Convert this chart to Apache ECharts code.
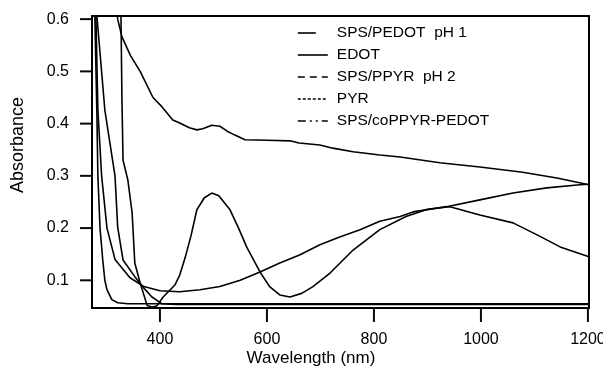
<!DOCTYPE html>
<html>
<head>
<meta charset="utf-8">
<script src="https://cdn.jsdelivr.net/npm/echarts@6/dist/echarts.min.js"></script>
<style>html,body{margin:0;padding:0;background:#fff}#c{width:603px;height:371px}</style>
</head>
<body>
<div id="c"></div>
<script>
// ---- data ----
const xTicks = [400, 600, 800, 1000, 1200];
const yTicks = [0.1, 0.2, 0.3, 0.4, 0.5, 0.6];
const seriesNames = ['SPS/PEDOT  pH 1', 'EDOT', 'SPS/PPYR  pH 2', 'PYR', 'SPS/coPPYR-PEDOT'];

const pedotWl = [280, 284, 291, 301, 316, 344, 370, 400, 437, 475, 512, 550, 587, 624, 662, 699, 736, 774, 811, 849, 873, 936, 998, 1060, 1123, 1185, 1202];
const pedotAbs = [0.62, 0.426, 0.30, 0.20, 0.14, 0.105, 0.088, 0.080, 0.078, 0.082, 0.088, 0.100, 0.116, 0.133, 0.149, 0.168, 0.183, 0.197, 0.213, 0.222, 0.231, 0.241, 0.254, 0.267, 0.277, 0.283, 0.284];

const edotWl = [278, 282, 284, 288, 293, 297, 301, 310, 321, 340, 400, 600, 800, 1000, 1202];
const edotAbs = [0.62, 0.426, 0.30, 0.20, 0.14, 0.10, 0.082, 0.063, 0.057, 0.055, 0.055, 0.055, 0.055, 0.055, 0.055];

const ppyrWl = [327, 329, 331, 340, 348, 353, 363, 376, 385, 394, 406, 428, 437, 447, 458, 469, 483, 497, 510, 531, 547, 562, 587, 605, 624, 643, 665, 686, 718, 761, 811, 860, 900, 942, 998, 1060, 1105, 1148, 1202];
const ppyrAbs = [0.62, 0.445, 0.33, 0.292, 0.229, 0.133, 0.095, 0.052, 0.049, 0.051, 0.068, 0.091, 0.110, 0.143, 0.185, 0.235, 0.258, 0.267, 0.262, 0.235, 0.200, 0.164, 0.116, 0.088, 0.072, 0.068, 0.075, 0.088, 0.114, 0.158, 0.197, 0.222, 0.236, 0.241, 0.225, 0.210, 0.187, 0.164, 0.145];

const pyrWl = [281, 297, 316, 321, 331, 353, 370, 385, 404, 430, 600, 800, 1000, 1202];
const pyrAbs = [0.62, 0.426, 0.30, 0.202, 0.139, 0.107, 0.085, 0.068, 0.055, 0.054, 0.054, 0.054, 0.054, 0.054];

const coWl = [318, 321, 329, 345, 363, 387, 404, 424, 437, 455, 469, 480, 497, 512, 525, 540, 559, 600, 643, 660, 699, 723, 761, 811, 849, 923, 998, 1078, 1142, 1202];
const coAbs = [0.64, 0.60, 0.566, 0.53, 0.50, 0.45, 0.432, 0.407, 0.401, 0.392, 0.388, 0.390, 0.397, 0.395, 0.386, 0.378, 0.369, 0.368, 0.367, 0.363, 0.359, 0.353, 0.346, 0.340, 0.336, 0.325, 0.317, 0.307, 0.296, 0.283];

const legendDash = [[18, 40], 'solid', [7, 5], [3, 2], [8, 4, 2, 4, 2, 4]];
// ---------------------------------------

const FONT = "'Liberation Sans', Arial, sans-serif";
const TICK_COLOR = '#0a0a0a';
const X_MIN = 273, X_MAX = 1202, Y_MIN = 0.047, Y_MAX = 0.606;
const pairs = (xs, ys) => xs.map((x, i) => [x, ys[i]]);
const curves = [
  pairs(pedotWl, pedotAbs),
  pairs(edotWl, edotAbs),
  pairs(ppyrWl, ppyrAbs),
  pairs(pyrWl, pyrAbs),
  pairs(coWl, coAbs)
];

const chart = echarts.init(document.getElementById('c'), null, {renderer: 'canvas'});
chart.setOption({
  animation: false,
  backgroundColor: '#fff',
  grid: {left: 92, right: 14, top: 16, bottom: 63, outerBoundsMode: 'none', containLabel: false,
    show: true, borderColor: '#000', borderWidth: 2},
  xAxis: {
    type: 'value', min: X_MIN, max: X_MAX,
    axisLine: {show: true, lineStyle: {color: '#000', width: 2}},
    axisTick: {show: false},
    axisLabel: {customValues: xTicks, margin: 24, color: '#000', fontSize: 16, fontFamily: FONT,
      formatter: v => String(Math.round(v))},
    splitLine: {show: false}
  },
  yAxis: {
    type: 'value', min: Y_MIN, max: Y_MAX,
    axisLine: {show: true, lineStyle: {color: '#000', width: 2}},
    axisTick: {show: false},
    axisLabel: {customValues: yTicks, margin: 23, color: '#000', fontSize: 16, fontFamily: FONT,
      formatter: v => v.toFixed(1)},
    splitLine: {show: false}
  },
  legend: {
    orient: 'vertical', left: 292, top: 20,
    itemWidth: 30, itemHeight: 14, itemGap: 6,
    textStyle: {color: '#000', fontSize: 15.5, fontFamily: FONT, lineHeight: 14, padding: [0, 0, 0, 4]},
    data: seriesNames.map((n, i) => ({name: n, itemStyle: {opacity: 0},
      lineStyle: {type: legendDash[i], width: 1.6, color: '#000', opacity: 1}}))
  },
  series: seriesNames.map((n, i) => ({
    name: n, type: 'line', data: curves[i], symbol: 'none', showSymbol: false,
    lineStyle: {color: '#000', width: 1.6}, itemStyle: {color: '#000'}, clip: true, z: 2
  }))
});

// axis titles + outward tick marks placed through the library's own scales
const g = [
  {id: 'xt', type: 'text', x: 311, y: 358, style: {text: 'Wavelength (nm)', fill: '#000', font: '17px ' + FONT, textAlign: 'center', textVerticalAlign: 'middle'}},
  {id: 'yt', type: 'text', x: 18.5, y: 145, rotation: Math.PI / 2, style: {text: 'Absorbance', fill: '#000', font: '18px ' + FONT, textAlign: 'center', textVerticalAlign: 'middle'}}
];
xTicks.forEach((v, i) => {
  const px = chart.convertToPixel({xAxisIndex: 0}, v);
  const py = chart.convertToPixel({yAxisIndex: 0}, Y_MIN);
  g.push({id: 'xk' + i, type: 'line', z: 100, shape: {x1: px, y1: py, x2: px, y2: py + 14}, style: {stroke: TICK_COLOR, lineWidth: 2}});
});
yTicks.forEach((v, i) => {
  const px = chart.convertToPixel({xAxisIndex: 0}, X_MIN);
  const py = chart.convertToPixel({yAxisIndex: 0}, v);
  g.push({id: 'yk' + i, type: 'line', z: 100, shape: {x1: px - 12, y1: py, x2: px, y2: py}, style: {stroke: TICK_COLOR, lineWidth: 2}});
});
chart.setOption({graphic: g});
</script>
</body>
</html>
